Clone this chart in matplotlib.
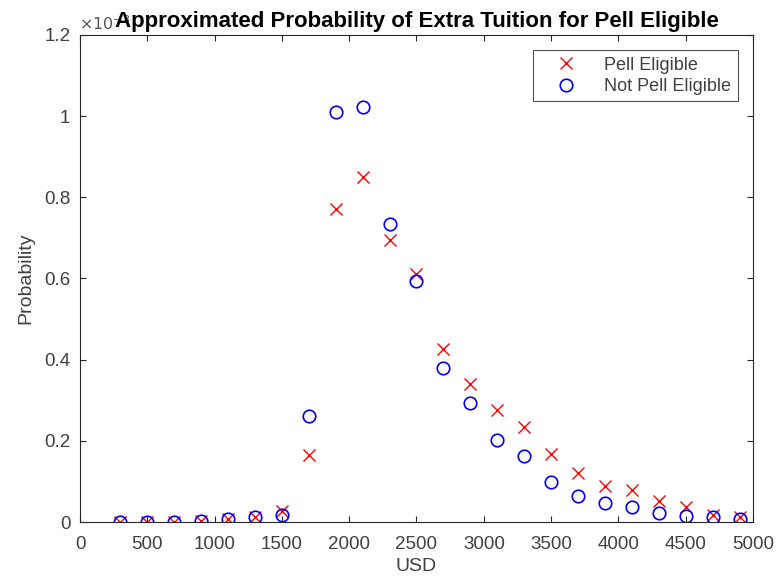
import numpy as np
import matplotlib
matplotlib.use("Agg")
import matplotlib.pyplot as plt
from matplotlib.ticker import FuncFormatter

plt.rcParams['font.family'] = ['Liberation Sans', 'DejaVu Sans']

# tuition amounts (USD)
usd = [300, 500, 700, 900, 1100, 1300, 1500, 1700, 1900, 2100, 2300, 2500,
       2700, 2900, 3100, 3300, 3500, 3700, 3900, 4100, 4300, 4500, 4700, 4900]

# probabilities (x 1e-3)
pell = [0.0, 0.0, 0.0, 0.003, 0.007, 0.012, 0.027, 0.165, 0.771, 0.85, 0.695, 0.611,
        0.426, 0.34, 0.276, 0.234, 0.167, 0.122, 0.089, 0.078, 0.051, 0.038, 0.018, 0.013]
not_pell = [0.0, 0.0, 0.0, 0.003, 0.007, 0.012, 0.018, 0.261, 1.01, 1.022, 0.734, 0.594,
            0.38, 0.293, 0.202, 0.163, 0.099, 0.064, 0.047, 0.037, 0.022, 0.015, 0.012, 0.008]

pell = np.array(pell) * 1e-3
not_pell = np.array(not_pell) * 1e-3

fig = plt.figure(figsize=(7.79, 5.83), dpi=100)
ax = fig.add_axes([0.1027, 0.1046, 0.8639, 0.8354])

ax.plot(usd, pell, 'x', color='red', ms=8, mew=1.0, label='Pell Eligible')
ax.plot(usd, not_pell, 'o', color='blue', mfc='none', ms=9, mew=1.2, label='Not Pell Eligible')

ax.set_xlim(0, 5000)
ax.set_ylim(0, 1.2e-3)
ax.set_xticks(np.arange(0, 5001, 500))
ax.set_yticks(np.arange(0, 1.21e-3, 0.2e-3))
ax.yaxis.set_major_formatter(FuncFormatter(lambda v, p: '%g' % round(v * 1e3, 3)))

axcol = '#262626'
for s in ax.spines.values():
    s.set_color(axcol)
    s.set_linewidth(0.8)
ax.tick_params(direction='in', top=True, right=True, length=4, width=0.8,
               colors=axcol, labelsize=13.5, labelcolor='#404040')
ax.tick_params(axis='x', pad=10)
ax.tick_params(axis='y', pad=7)

# exponent label, like matlab puts it
ax.text(-0.002, 1.004, r'$\times 10^{-3}$', transform=ax.transAxes,
        fontsize=11.5, color='#555555', ha='left', va='bottom')

ax.set_xlabel('USD', fontsize=14, color='#404040', labelpad=4)
ax.set_ylabel('Probability', fontsize=14, color='#404040', labelpad=7)
ax.set_title('Approximated Probability of Extra Tuition for Pell Eligible',
             fontsize=16, fontweight='bold', pad=6)

leg = ax.legend(loc='upper right', fontsize=13, frameon=True, fancybox=False,
                edgecolor=axcol, borderpad=0.35, handlelength=3.0, handletextpad=0.6,
                borderaxespad=0.85, labelspacing=0.25)
leg.get_frame().set_linewidth(0.8)
for t in leg.get_texts():
    t.set_color('#404040')

fig.savefig('out.png', dpi=100)
